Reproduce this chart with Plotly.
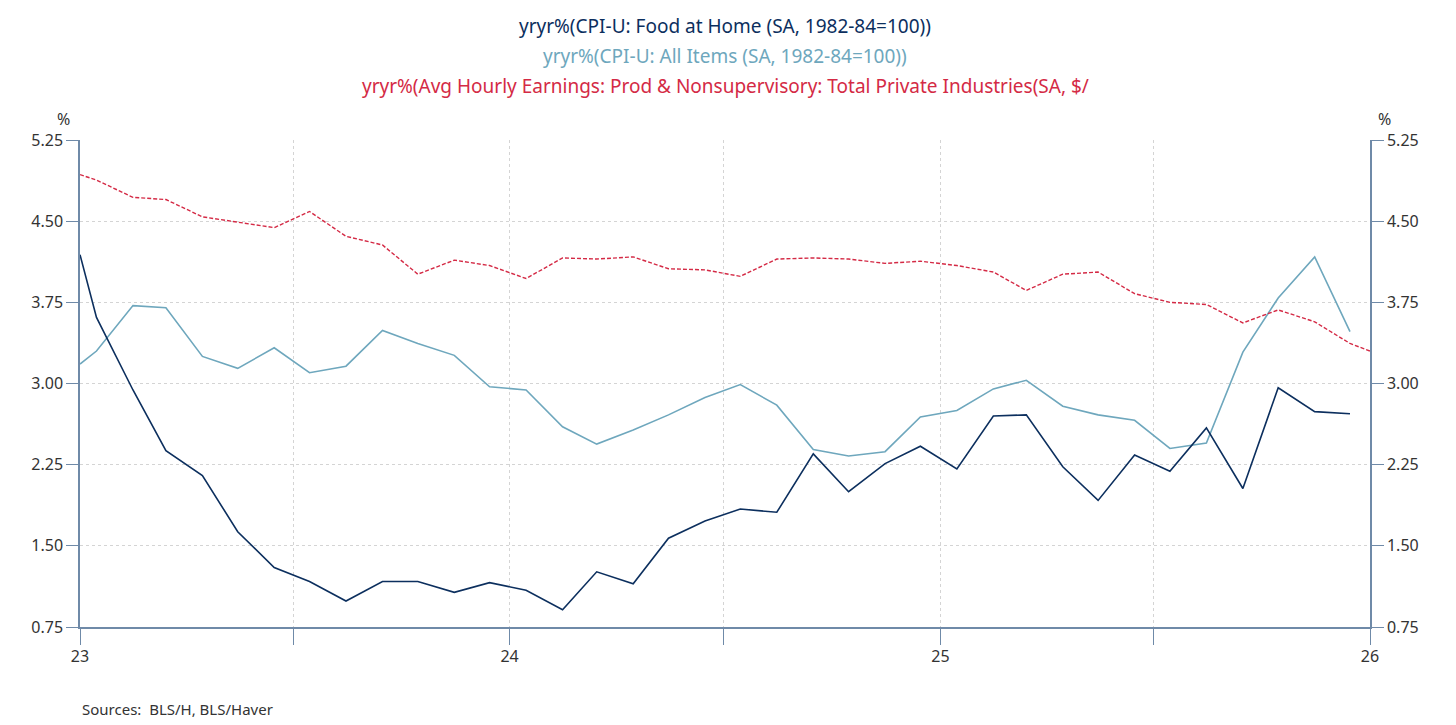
import pandas as pd
import plotly.graph_objects as go

# monthly, plotted mid-month; first value sits at the 2023-01-01 axis edge
months = ["2023-01-01"] + [d.strftime("%Y-%m-15") for d in pd.date_range("2023-01-01", "2025-12-01", freq="MS")]
food_home = [4.19,
             3.61, 2.94, 2.38, 2.15, 1.63, 1.30, 1.17, 0.99, 1.17, 1.17, 1.07, 1.16,
             1.09, 0.91, 1.26, 1.15, 1.57, 1.73, 1.84, 1.81, 2.35, 2.00, 2.26, 2.42,
             2.21, 2.70, 2.71, 2.23, 1.92, 2.34, 2.19, 2.59, 2.03, 2.96, 2.74, 2.72]
all_items = [3.18,
             3.30, 3.72, 3.70, 3.25, 3.14, 3.33, 3.10, 3.16, 3.49, 3.37, 3.26, 2.97,
             2.94, 2.60, 2.44, 2.57, 2.71, 2.87, 2.99, 2.80, 2.39, 2.33, 2.37, 2.69,
             2.75, 2.95, 3.03, 2.79, 2.71, 2.66, 2.40, 2.45, 3.29, 3.79, 4.17, 3.48]
earn_months = months + ["2026-01-01"]
earnings = [4.93,
            4.88, 4.72, 4.70, 4.54, 4.49, 4.44, 4.59, 4.36, 4.28, 4.01, 4.14, 4.09,
            3.97, 4.16, 4.15, 4.17, 4.06, 4.05, 3.99, 4.15, 4.16, 4.15, 4.11, 4.13,
            4.09, 4.03, 3.86, 4.01, 4.03, 3.83, 3.75, 3.73, 3.56, 3.68, 3.57, 3.37,
            3.30]

y_ticks = [0.75, 1.5, 2.25, 3.0, 3.75, 4.5, 5.25]
year_ticks = ["2023-01-01", "2024-01-01", "2025-01-01", "2026-01-01"]
year_labels = ["23", "24", "25", "26"]

NAVY = "#0c2f5e"
LIGHT = "#6ea7bd"
RED = "#d42a45"
AXIS = "#6f8aa8"

fig = go.Figure()
fig.add_trace(go.Scatter(x=earn_months, y=earnings, mode="lines", yaxis="y2",
                         line=dict(color=RED, width=1.4, dash="4px,2px")))
fig.add_trace(go.Scatter(x=months, y=all_items, mode="lines",
                         line=dict(color=LIGHT, width=1.6)))
fig.add_trace(go.Scatter(x=months, y=food_home, mode="lines",
                         line=dict(color=NAVY, width=1.6)))

titles = [("yryr%(CPI-U: Food at Home (SA, 1982-84=100))", NAVY, 114),
          ("yryr%(CPI-U: All Items (SA, 1982-84=100))", LIGHT, 84),
          ("yryr%(Avg Hourly Earnings: Prod &amp; Nonsupervisory: Total Private Industries(SA, $/", RED, 54)]
for text, color, shift in titles:
    fig.add_annotation(text=text, x=0.5, y=1, xref="paper", yref="paper", yanchor="middle",
                       yshift=shift, showarrow=False, font=dict(size=19, color=color))

yax = dict(range=[0.75, 5.25], tickvals=y_ticks, tickformat=".2f", ticks="outside",
           ticklen=12, tickcolor=AXIS, showline=True, linecolor=AXIS, linewidth=1.5,
           zeroline=False, tickfont=dict(size=16, color="#333"))

fig.update_layout(
    width=1456, height=725, showlegend=False,
    plot_bgcolor="white", paper_bgcolor="white",
    font=dict(family="Noto Sans", color="#333"),
    margin=dict(l=72, r=94, t=132, b=106),
    xaxis=dict(range=["2023-01-01", "2026-01-01"], tickvals=year_ticks, ticktext=year_labels,
               ticks="", showgrid=False, showline=True, linecolor=AXIS, linewidth=1.5,
               tickfont=dict(size=16, color="#333"), ticklabelstandoff=14,
               minor=dict(ticks="outside", ticklen=16, tickcolor=AXIS, dtick="M6",
                          tick0="2023-01-01", showgrid=True, gridcolor="#d4d4d4",
                          griddash="dot")),
    yaxis=dict(**yax, showgrid=True, gridcolor="#d4d4d4", griddash="dot"),
    yaxis2=dict(**yax, overlaying="y", side="right", showgrid=False),
)
fig.add_annotation(text="%", x=0, y=1, xref="paper", yref="paper", xanchor="right",
                   yanchor="bottom", xshift=-8, yshift=8, showarrow=False, font=dict(size=16))
fig.add_annotation(text="%", x=1, y=1, xref="paper", yref="paper", xanchor="left",
                   yanchor="bottom", xshift=6, yshift=8, showarrow=False, font=dict(size=16))
fig.add_annotation(text="Sources:  BLS/H, BLS/Haver", x=0, y=0, xref="paper", yref="paper",
                   xanchor="left", yanchor="top", yshift=-70, showarrow=False,
                   font=dict(size=15))
fig.write_html("out.html")
